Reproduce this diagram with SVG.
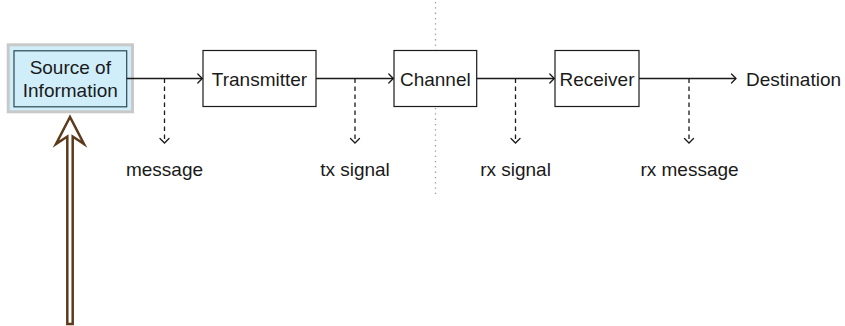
<svg xmlns="http://www.w3.org/2000/svg" width="845" height="326" viewBox="0 0 845 326">
  <defs>
    <style>
      .box { fill: #ffffff; stroke: #1a1a1a; stroke-width: 1.2; }
      .lbl { font-family: "Liberation Sans", Arial, sans-serif; font-size: 19px; fill: #1a1a1a; }
      .mid { text-anchor: middle; }
      .flow { stroke: #1a1a1a; stroke-width: 1.3; fill: none; }
      .tap { stroke: #1a1a1a; stroke-width: 1.3; fill: none; stroke-dasharray: 4.5 3.5; }
      .head { stroke: #1a1a1a; stroke-width: 1.3; fill: none; stroke-linecap: round; }
    </style>
    <!-- open "to"-style arrow tip -->
    <marker id="tip" markerUnits="userSpaceOnUse" markerWidth="12" markerHeight="12" viewBox="-8 -6 10 12" refX="0" refY="0" orient="auto" overflow="visible">
      <path d="M-4.5,-4.5 Q-1,-1 0,0 Q-1,1 -4.5,4.5" class="head"/>
    </marker>
  </defs>

  <!-- dotted boundary line -->
  <line x1="435.5" y1="2" x2="435.5" y2="198" stroke="#9a9a9a" stroke-width="1.3" stroke-dasharray="1.3 4"/>

  <g id="source">
    <rect x="8.2" y="44.8" width="124.3" height="67" fill="#d0eefa" stroke="#c9c9c9" stroke-width="3"/>
    <rect x="14" y="50.8" width="112.7" height="56" fill="#d0eefa" stroke="#2a4752" stroke-width="1.2"/>
    <text class="lbl mid" x="70.3" y="73.5">Source of</text>
    <text class="lbl mid" x="70.3" y="96.8">Information</text>
  </g>

  <g id="transmitter">
    <rect class="box" x="203" y="50.5" width="113" height="56"/>
    <text class="lbl mid" x="259.5" y="85.5">Transmitter</text>
  </g>

  <g id="channel">
    <rect class="box" x="394" y="50.5" width="82.7" height="56"/>
    <text class="lbl mid" x="435.3" y="85.5">Channel</text>
  </g>

  <g id="receiver">
    <rect class="box" x="555" y="50.5" width="84" height="56"/>
    <text class="lbl mid" x="597" y="85.5">Receiver</text>
  </g>

  <g id="destination">
    <text class="lbl" x="746" y="85.5">Destination</text>
  </g>

  <g id="labels">
    <text class="lbl mid" x="164.5" y="176">message</text>
    <text class="lbl mid" x="355" y="176">tx signal</text>
    <text class="lbl mid" x="515.5" y="176">rx signal</text>
    <text class="lbl mid" x="689.5" y="176">rx message</text>
  </g>

  <g id="connectors">
    <line class="flow" x1="126.7" y1="78.5" x2="202.3" y2="78.5" marker-end="url(#tip)"/>
    <line class="flow" x1="316" y1="78.5" x2="393.3" y2="78.5" marker-end="url(#tip)"/>
    <line class="flow" x1="476.7" y1="78.5" x2="554.3" y2="78.5" marker-end="url(#tip)"/>
    <line class="flow" x1="639" y1="78.5" x2="736" y2="78.5" marker-end="url(#tip)"/>

    <line class="tap" x1="164.5" y1="78.5" x2="164.5" y2="143" marker-end="url(#tip)"/>
    <line class="tap" x1="355" y1="78.5" x2="355" y2="143" marker-end="url(#tip)"/>
    <line class="tap" x1="515.5" y1="78.5" x2="515.5" y2="143" marker-end="url(#tip)"/>
    <line class="tap" x1="689" y1="78.5" x2="689" y2="143" marker-end="url(#tip)"/>

    <!-- hollow input arrow into the source -->
    <path d="M67.3,324 L67.3,136.5 L56,144 L70,117 L84,144 L72.7,136.5 L72.7,324 Z" fill="#ffffff" stroke="#5c3b1c" stroke-width="2.5" stroke-linejoin="miter"/>
  </g>
</svg>
